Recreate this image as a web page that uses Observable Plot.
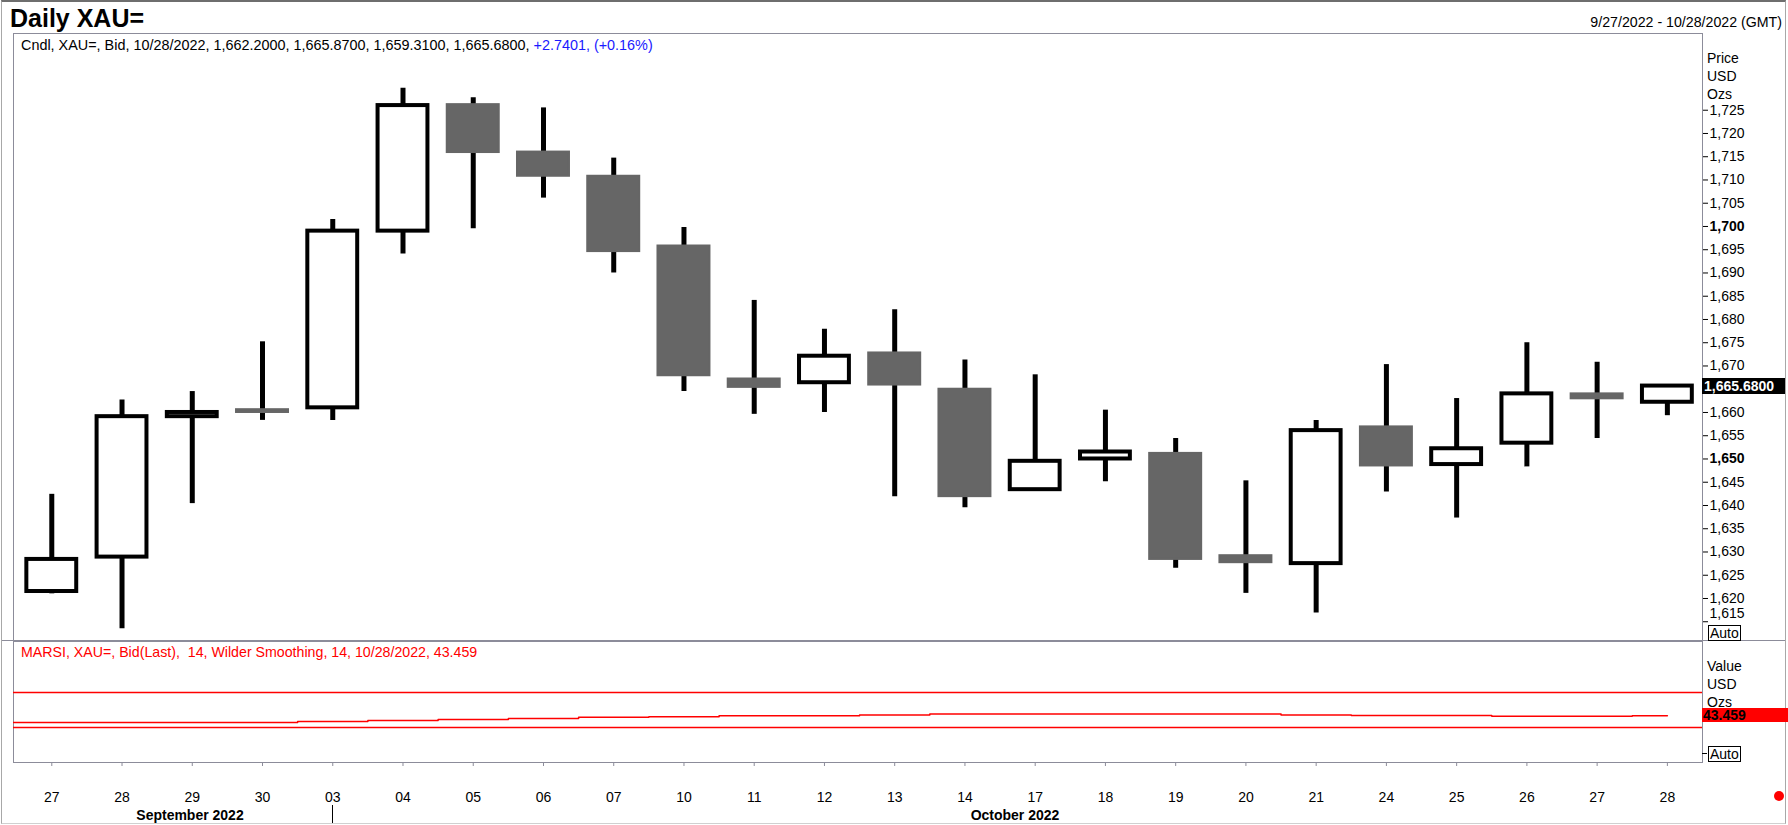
<!DOCTYPE html>
<html><head><meta charset="utf-8">
<script src="https://cdn.jsdelivr.net/npm/d3@7"></script>
<script src="https://cdn.jsdelivr.net/npm/@observablehq/plot@0.6"></script>
<style>
html,body{margin:0;padding:0;background:#fff;}
#root{position:relative;width:1788px;height:825px;overflow:hidden;font-family:"Liberation Sans",Arial,sans-serif;color:#000;background:#fff;}
.abs{position:absolute;white-space:pre;line-height:1;}
#root svg{position:absolute;left:0;}
</style></head><body><div id="root"></div>
<script>
// ---------- data ----------
const dates = ["2022-09-27","2022-09-28","2022-09-29","2022-09-30","2022-10-03","2022-10-04","2022-10-05","2022-10-06","2022-10-07","2022-10-10","2022-10-11","2022-10-12","2022-10-13","2022-10-14","2022-10-17","2022-10-18","2022-10-19","2022-10-20","2022-10-21","2022-10-24","2022-10-25","2022-10-26","2022-10-27","2022-10-28"];
const dayLabels = ["27","28","29","30","03","04","05","06","07","10","11","12","13","14","17","18","19","20","21","24","25","26","27","28"];
const openP  = [1621.5,1628.9,1659.1,1660.6,1661.0,1699.0,1726.2,1716.0,1710.8,1695.8,1667.2,1666.4,1672.8,1665.0,1643.4,1650.0,1651.2,1629.2,1627.5,1656.9,1648.8,1653.4,1664.0,1662.20];
const highP  = [1642.4,1662.7,1664.5,1675.2,1701.5,1729.7,1727.7,1725.5,1714.7,1699.8,1684.1,1677.9,1682.1,1671.3,1668.1,1660.5,1654.4,1645.3,1658.3,1670.3,1663.0,1675.0,1670.8,1665.87];
const lowP   = [1621.0,1613.5,1640.4,1658.3,1658.3,1694.1,1699.5,1706.1,1690.0,1664.5,1659.6,1660.0,1641.9,1639.5,1643.4,1645.1,1626.5,1621.1,1616.9,1642.9,1637.3,1648.3,1654.4,1659.31];
const closeP = [1628.4,1659.1,1660.0,1660.0,1699.0,1726.0,1715.9,1710.8,1694.6,1667.9,1665.4,1672.1,1665.9,1641.9,1649.5,1651.5,1628.4,1627.7,1656.1,1648.5,1652.2,1664.0,1662.94,1665.68];
// MARSI (14, Wilder smoothing); first value is the session before the window (line enters from the left edge)
const rsiDates  = ["2022-09-26", ...dates];
const rsiValues = [35.7,35.7,35.7,35.7,35.7,36.9,38.0,39.1,40.3,41.6,42.4,43.3,43.3,44.4,45.5,45.5,45.5,45.5,45.5,44.4,43.6,43.6,42.8,42.8,43.459];
const rsiLevels = [70, 30];
const priceTicks = [1615,1620,1625,1630,1635,1640,1645,1650,1655,1660,1670,1675,1680,1685,1690,1695,1700,1705,1710,1715,1720,1725];
const boldTicks = ["1,650","1,700"];
const liftedTick = "1,615";
const lastPrice = 1665.68;
const lastPriceLabel = "1,665.6800";
const lastRsi = 43.459;
const lastRsiLabel = "43.459";
const months = ["September 2022","October 2022"];
const titleText = "Daily XAU=";
const rangeText = "9/27/2022 - 10/28/2022 (GMT)";
const headerText = "Cndl, XAU=, Bid, 10/28/2022, 1,662.2000, 1,665.8700, 1,659.3100, 1,665.6800, ";
const headerChange = "+2.7401, (+0.16%)";
const rsiHeader = "MARSI, XAU=, Bid(Last),  14, Wilder Smoothing, 14, 10/28/2022, 43.459";

// ---------- build ----------
const candles = dates.map((d, i) => ({i, date: d, open: openP[i], high: highP[i], low: lowP[i], close: closeP[i]}));
const rsiRows = rsiDates.map((d, k) => ({i: k - 1, v: rsiValues[k]}));

const FONT = '"Liberation Sans", Arial, sans-serif';
const frameColor = "#8c8c9a";
const xDomain = [-0.545, 23.5];
const root = document.getElementById("root");

function addText(txt, opts) {
  const el = document.createElement("div");
  el.className = "abs";
  el.textContent = txt;
  Object.assign(el.style, opts);
  root.appendChild(el);
  return el;
}
function addBox(opts) {
  const el = document.createElement("div");
  el.style.position = "absolute";
  Object.assign(el.style, opts);
  root.appendChild(el);
  return el;
}

// outer border
addBox({left:"1px", top:"0px", width:"1783px", height:"821px", borderTop:"2px solid #6e6e6e", borderLeft:"1px solid #a8a8a8", borderRight:"1px solid #a8a8a8", borderBottom:"1px solid #d0d0d0"});

const PRICE_TOP = 32;
const priceChart = Plot.plot({
  width: 1788, height: 610,
  marginTop: 1, marginBottom: 1, marginLeft: 13, marginRight: 86,
  x: {domain: xDomain, axis: null},
  y: {domain: [1610.75, 1741.5], axis: "right", ticks: priceTicks, tickFormat: d3.format(","), tickSize: 5, tickPadding: 2, label: null},
  style: {background: "transparent", fontSize: "14px", fontFamily: FONT, overflow: "visible", color: "#000"},
  marks: [
    Plot.frame({stroke: frameColor}),
    Plot.ruleX(candles, {x: "i", y1: "low", y2: "high", stroke: "#000", strokeWidth: 5}),
    Plot.rect(candles.filter(d => d.close < d.open), {x1: d => d.i - 0.37, x2: d => d.i + 0.37, y1: "open", y2: "close", fill: "#666666", stroke: "#666666", strokeWidth: 2}),
    Plot.rect(candles.filter(d => d.close >= d.open), {x1: d => d.i - 0.355, x2: d => d.i + 0.355, y1: "open", y2: "close", fill: "#ffffff", stroke: "#000", strokeWidth: 4})
  ]
});
priceChart.style.top = PRICE_TOP + "px";
root.appendChild(priceChart);
priceChart.querySelectorAll('g[aria-label^="y-axis"] text').forEach(t => {
  const s = t.textContent.trim();
  if (boldTicks.includes(s)) t.setAttribute("font-weight", "bold");
  if (s === liftedTick) t.setAttribute("transform", (t.getAttribute("transform") || "") + " translate(0,-8)");
});

const RSI_TOP = 640;
const rsiChart = Plot.plot({
  width: 1788, height: 1 + 121 + 56,
  marginTop: 1, marginBottom: 56, marginLeft: 13, marginRight: 86,
  x: {domain: xDomain, ticks: dates.map((d, i) => i), tickFormat: i => dayLabels[i], tickSize: 4, tickPadding: 26, label: null},
  y: {domain: [-10, 128.3], axis: null},
  style: {background: "transparent", fontSize: "14px", fontFamily: FONT, overflow: "visible", color: "#000"},
  marks: [
    Plot.frame({stroke: frameColor}),
    Plot.ruleY(rsiLevels, {stroke: "#ff0000", strokeWidth: 1.5}),
    Plot.line(rsiRows, {x: "i", y: "v", curve: "step", stroke: "#ff0000", strokeWidth: 1.5, clip: true})
  ]
});
rsiChart.style.top = RSI_TOP + "px";
root.appendChild(rsiChart);
rsiChart.querySelectorAll('g[aria-label^="x-axis"] line, g[aria-label="x-axis tick"] path').forEach(p => p.setAttribute("stroke", frameColor));

// divider between panels (full width)
addBox({left:"2px", top:"640px", width:"1783px", height:"1px", background: frameColor});

// title + header texts
addText(titleText, {left:"10px", top:"6px", fontSize:"25px", fontWeight:"bold"});
addText(rangeText, {right:"6px", top:"15px", fontSize:"14.2px"});
const hdr = addText(headerText, {left:"21px", top:"38px", fontSize:"14.4px"});
const chg = document.createElement("span"); chg.textContent = headerChange; chg.style.color = "#1a1aff"; hdr.appendChild(chg);
addText(rsiHeader, {left:"21px", top:"645px", fontSize:"14.2px", color:"#ff0000"});

// right panel labels
["Price","USD","Ozs"].forEach((s, k) => addText(s, {left:"1707px", top:(51 + k*18) + "px", fontSize:"14px"}));
["Value","USD","Ozs"].forEach((s, k) => addText(s, {left:"1707px", top:(659 + k*18) + "px", fontSize:"14px"}));
addText("Auto", {left:"1708px", top:"625px", fontSize:"14px", border:"1px solid #000", padding:"0 1px"});
addText("Auto", {left:"1708px", top:"746px", fontSize:"14px", border:"1px solid #000", padding:"0 1px"});
addBox({left:"1702px", top:"753px", width:"5px", height:"1px", background:"#000"});

// last price tag
const yP = priceChart.scale("y").apply(lastPrice) + PRICE_TOP;
addText(lastPriceLabel, {left:"1702px", top:(yP - 8) + "px", width:"81px", height:"16px", lineHeight:"16px", background:"#000", color:"#fff", fontWeight:"bold", fontSize:"14px", paddingLeft:"2px"});
// last RSI tag
const yR = rsiChart.scale("y").apply(lastRsi) + RSI_TOP;
addText(lastRsiLabel, {left:"1702px", top:(yR - 7) + "px", width:"86px", height:"14px", lineHeight:"14px", background:"#ff0000", color:"#000", fontWeight:"bold", fontSize:"14px", paddingLeft:"1px"});

// month labels and separator
const xs = rsiChart.scale("x");
addText(months[0], {left:"190px", top:"808px", fontSize:"14px", fontWeight:"bold", transform:"translateX(-50%)"});
addText(months[1], {left:"1015px", top:"808px", fontSize:"14px", fontWeight:"bold", transform:"translateX(-50%)"});
addBox({left: (xs.apply(4) - 0.5) + "px", top:"805px", width:"1px", height:"18px", background:"#000"});

// red status dot
addBox({left:"1774px", top:"791px", width:"10px", height:"10px", borderRadius:"50%", background:"#ff0000"});
</script>
</body></html>
